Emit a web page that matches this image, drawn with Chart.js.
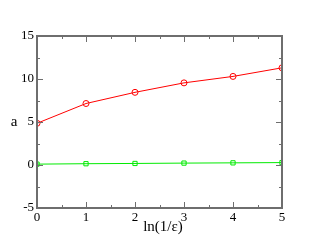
<!DOCTYPE html>
<html>
<head>
<meta charset="utf-8">
<script src="https://cdn.jsdelivr.net/npm/chart.js@4"></script>
<style>
  html, body { margin: 0; padding: 0; background: #fff; }
  #wrap { width: 317px; height: 245px; }
</style>
</head>
<body>
<div id="wrap"><canvas id="canvas-a"></canvas></div>
<script>
var xValues = [0, 1, 2, 3, 4, 5];
var redValues = [4.85, 7.15, 8.45, 9.55, 10.3, 11.3];
var greenValues = [0.1, 0.15, 0.18, 0.22, 0.25, 0.28];
var yTicks = [-5, 0, 5, 10, 15];
var xTitle = 'ln(1/\u03b5)';
var yTitle = 'a';

var FONT = "'Liberation Serif', 'Times New Roman', serif";
var AXIS = '#6e6e6e';

var toPoints = function(ys) {
    return xValues.map(function(x, i) { return { x: x, y: ys[i] }; });
};

// frame, inward major/minor ticks and both axis titles
var framePlugin = {
    id: 'frame',
    afterDraw: function(chart) {
        var ctx = chart.ctx, a = chart.chartArea;
        var xs = chart.scales.x, ys = chart.scales.y;
        ctx.save();
        ctx.strokeStyle = AXIS;
        ctx.lineWidth = 1;
        var v, px, py;
        for (v = 0; v <= 5; v += 0.5) {
            px = Math.round(xs.getPixelForValue(v)) + 0.5;
            var len = (v % 1 === 0) ? 6 : 3;
            ctx.beginPath();
            ctx.moveTo(px, a.bottom); ctx.lineTo(px, a.bottom - len);
            ctx.moveTo(px, a.top); ctx.lineTo(px, a.top + len);
            ctx.stroke();
        }
        for (v = -5; v <= 15; v += 2.5) {
            py = Math.round(ys.getPixelForValue(v)) + 0.5;
            var l2 = (v % 5 === 0) ? 6 : 3;
            ctx.beginPath();
            ctx.moveTo(a.left, py); ctx.lineTo(a.left + l2, py);
            ctx.moveTo(a.right, py); ctx.lineTo(a.right - l2, py);
            ctx.stroke();
        }
        ctx.lineWidth = 2;
        ctx.strokeRect(a.left, a.top, a.right - a.left, a.bottom - a.top);
        ctx.fillStyle = '#000';
        ctx.textAlign = 'center';
        ctx.textBaseline = 'middle';
        ctx.font = '15px ' + FONT;
        ctx.fillText(yTitle, 14, 122);
        ctx.fillText(xTitle, 163, 227);
        ctx.restore();
    }
};

var config = {
    type: 'line',
    data: {
        datasets: [{
            data: toPoints(redValues),
            borderColor: 'rgb(255,0,0)',
            borderWidth: 1,
            pointStyle: 'circle',
            pointRadius: 3,
            pointBorderWidth: 1,
            pointBackgroundColor: 'rgba(0,0,0,0)',
            pointBorderColor: 'rgb(255,0,0)',
            tension: 0
        }, {
            data: toPoints(greenValues),
            borderColor: 'rgb(0,235,0)',
            borderWidth: 1,
            pointStyle: 'rect',
            pointRadius: 3,
            pointBorderWidth: 1,
            pointBackgroundColor: 'rgba(0,0,0,0)',
            pointBorderColor: 'rgb(0,235,0)',
            tension: 0
        }]
    },
    options: {
        responsive: true,
        maintainAspectRatio: false,
        animation: false,
        layout: { padding: { left: 0, right: 35, top: 36, bottom: 0 } },
        plugins: {
            legend: { display: false },
            tooltip: { enabled: false }
        },
        scales: {
            x: {
                type: 'linear',
                min: 0, max: 5,
                grid: { display: false, drawTicks: false },
                border: { display: false },
                ticks: {
                    stepSize: 1,
                    padding: 2,
                    color: '#000',
                    font: { family: FONT, size: 13 }
                },
                afterFit: function(scale) { scale.height = 37; }
            },
            y: {
                type: 'linear',
                min: -5, max: 15,
                afterBuildTicks: function(scale) {
                    scale.ticks = yTicks.map(function(v) { return { value: v }; });
                },
                grid: { display: false, drawTicks: false },
                border: { display: false },
                ticks: {
                    padding: 3,
                    color: '#000',
                    font: { family: FONT, size: 13 }
                },
                afterFit: function(scale) { scale.width = 37; }
            }
        }
    },
    plugins: [framePlugin]
};

window.onload = function() {
    new Chart(document.getElementById('canvas-a'), config);
};
</script>
</body>
</html>
